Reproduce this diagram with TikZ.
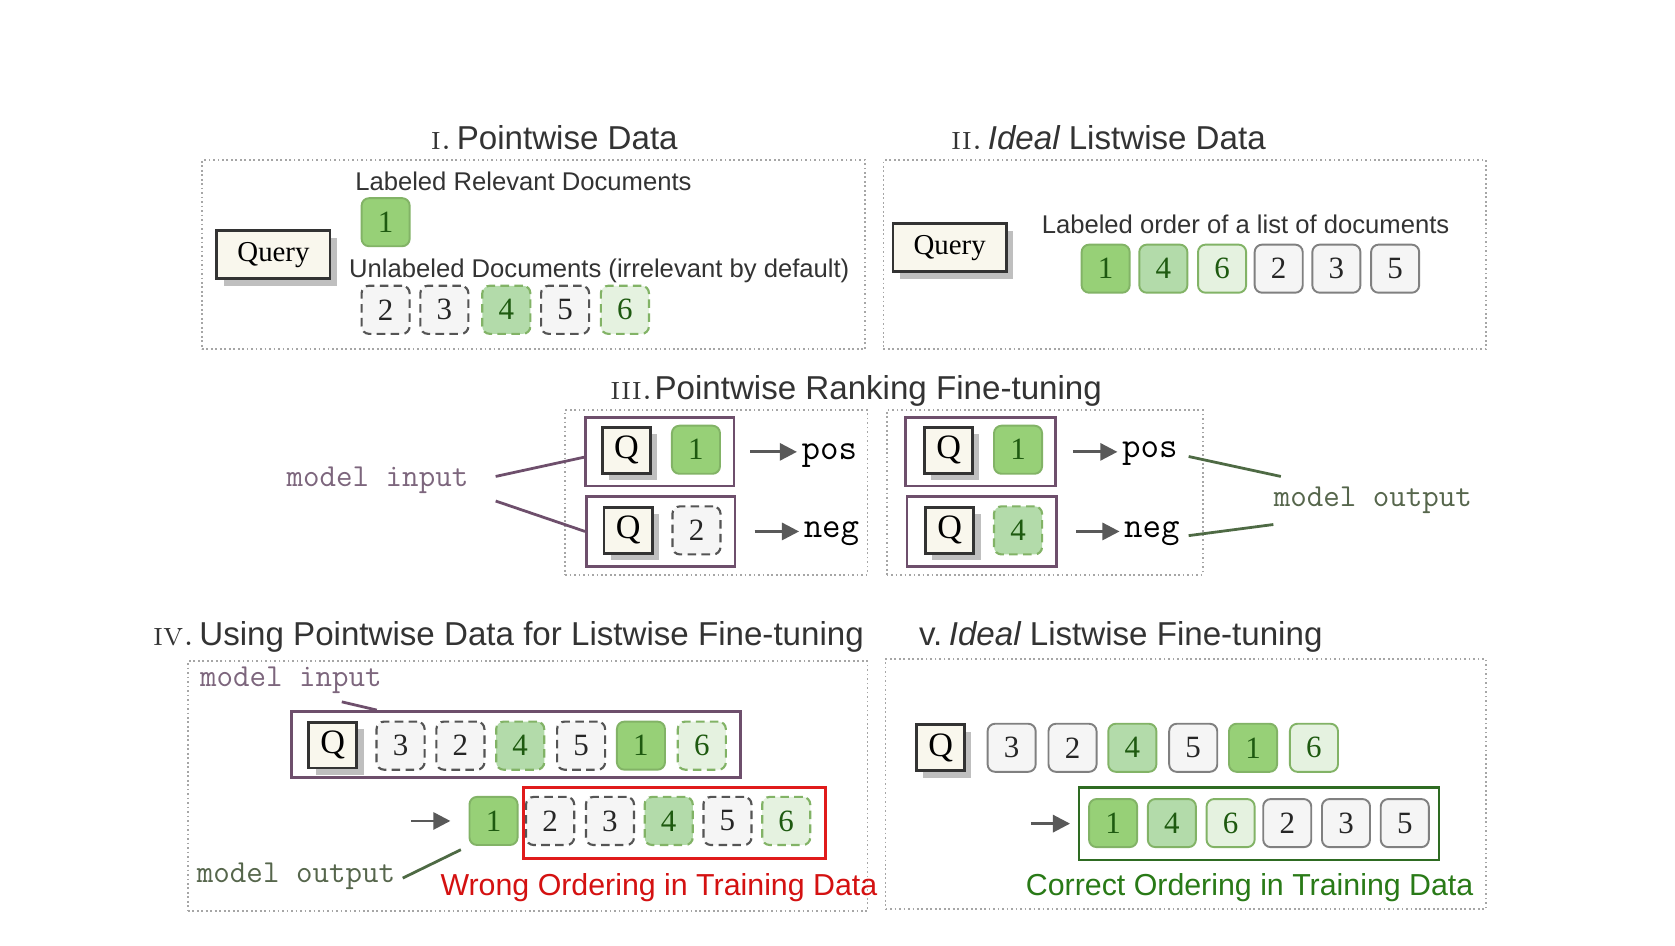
\documentclass[tikz,border=0pt]{standalone}
\usepackage{fontspec}
\newfontfamily\sansf{Liberation Sans}
\newfontfamily\seriff{Liberation Serif}
\newcommand\monof{\ttfamily}
\usetikzlibrary{shadows,arrows.meta}
\definecolor{gA}{HTML}{97D077}
\definecolor{gB}{HTML}{82B366}
\definecolor{gM}{HTML}{B3DBAA}
\definecolor{gL}{HTML}{E5F2E0}
\definecolor{gT}{HTML}{1E5A10}
\definecolor{grF}{HTML}{F5F5F5}
\definecolor{grS}{HTML}{808080}
\definecolor{grD}{HTML}{555555}
\definecolor{cream}{HTML}{F9F7ED}
\definecolor{qD}{HTML}{333333}
\definecolor{shG}{HTML}{BFBFBF}
\definecolor{pC}{HTML}{6E4F6C}
\definecolor{miC}{HTML}{7D667D}
\definecolor{moC}{HTML}{56664C}
\definecolor{glC}{HTML}{4E6A44}
\definecolor{rC}{HTML}{E01B1B}
\definecolor{rT}{HTML}{D41111}
\definecolor{cC}{HTML}{2E6B22}
\definecolor{cT}{HTML}{297A17}
\definecolor{tC}{HTML}{333333}
\definecolor{arC}{HTML}{595959}
\definecolor{pnC}{HTML}{A6A6A6}
\newcommand\rnum[1]{{\rmfamily\scshape #1}\hspace{2.5pt}}
\tikzset{
  doc/.style={rounded corners=3.5pt, minimum width=22.5pt, minimum height=22.5pt, inner sep=0pt, line width=0.9pt, font=\seriff\fontsize{14.5}{16}\selectfont},
  dsh/.style={dash pattern=on 4pt off 2.5pt, line width=1pt},
  dkg/.style={doc, fill=gA, draw=gB, text=gT},
  mdg/.style={doc, fill=gM, draw=gB, text=gT},
  ltg/.style={doc, fill=gL, draw=gB, text=gT},
  gry/.style={doc, fill=grF, draw=grS, text=black!85},
  dgry/.style={gry, draw=grD, dsh},
  dmdg/.style={mdg, dsh},
  dltg/.style={ltg, dsh},
  qry/.style={draw=qD, line width=1.3pt, fill=cream, minimum width=53pt, minimum height=22.5pt, inner sep=0pt, font=\seriff\fontsize{13.5}{15}\selectfont, drop shadow={shadow xshift=3.2pt, shadow yshift=-3.2pt, fill=shG, opacity=1}},
  qsm/.style={qry, minimum width=22.5pt, minimum height=21.5pt, font=\seriff\fontsize{16}{18}\selectfont},
  pnl/.style={draw=pnC, line width=0.8pt, dash pattern=on 0.8pt off 1.3pt, inner sep=0pt},
  prp/.style={draw=pC, line width=1.3pt, inner sep=0pt},
  ttl/.style={anchor=base west, inner sep=0pt, text=tC, font=\sansf\fontsize{15.5}{18}\selectfont},
  lbl/.style={anchor=base, inner sep=0pt, text=tC, font=\sansf\fontsize{12}{14}\selectfont},
  minp/.style={anchor=base west, inner sep=0pt, text=miC, font=\monof\fontsize{15}{17}\selectfont},
  mout/.style={anchor=base west, inner sep=0pt, text=moC, font=\monof\fontsize{15}{17}\selectfont},
  pn/.style={anchor=base west, inner sep=0pt, text=black, font=\monof\fontsize{16.8}{19}\selectfont},
  arr/.style={draw=arC, line width=1.3pt, -{Triangle[length=8pt,width=8pt]}},
  pline/.style={draw=pC, line width=1.3pt},
  gline/.style={draw=glC, line width=1.3pt},
  bigtxt/.style={anchor=base west, inner sep=0pt, font=\sansf\fontsize{14.2}{16}\selectfont},
}
\begin{document}
\begin{tikzpicture}[x=0.5pt,y=-0.5pt]
\fill[white] (0,0) rectangle (1568,885);
\useasboundingbox (0,0) rectangle (1568,885);

% ---------- Panel I ----------
\node[pnl, minimum width=310.5pt, minimum height=88.5pt] (P1) at (499.5,238.5) {};
\node[ttl] (T1) at (403,140) {\rnum{i.}Pointwise Data};
\node[qry] (Q1) at (256,238.5) {Query};
\node[lbl] (L1a) at (490,178.5) {Labeled Relevant Documents};
\node[dkg] (d11) at (361,208) {1};
\node[lbl] (L1b) at (561,259.5) {Unlabeled Documents (irrelevant by default)};
\node[dgry] (d12) at (361,290) {2};
\node[dgry] (d13) at (416,290) {3};
\node[dmdg] (d14) at (474,290) {4};
\node[dgry] (d15) at (529,290) {5};
\node[dltg] (d16) at (585,290) {6};

% ---------- Panel II ----------
\node[pnl, minimum width=282pt, minimum height=88.5pt] (P2) at (1109,238.5) {};
\node[ttl] (T2) at (890,140) {\rnum{ii.}{\itshape Ideal} Listwise Data};
\node[qry] (Q2) at (889,232) {Query};
\node[lbl] (L2) at (1166,218.5) {Labeled order of a list of documents};
\node[dkg] (d21) at (1035,251.5) {1};
\node[mdg] (d22) at (1089,251.5) {4};
\node[ltg] (d23) at (1144,251.5) {6};
\node[gry] (d24) at (1197,251.5) {2};
\node[gry] (d25) at (1251,251.5) {3};
\node[gry] (d26) at (1306,251.5) {5};

% ---------- Panel III ----------
\node[ttl] (T3) at (571,374) {{\rmfamily\scshape iii.}\hspace{1pt}Pointwise Ranking Fine-tuning};
\node[pnl, minimum width=141.5pt, minimum height=77pt] (P3a) at (670.5,461) {};
\node[pnl, minimum width=148pt, minimum height=77pt] (P3b) at (978,461) {};
\node[prp, minimum width=69.5pt, minimum height=32pt] (B3a) at (617.5,423) {};
\node[prp, minimum width=69.5pt, minimum height=32.5pt] (B3b) at (618.5,497.5) {};
\node[prp, minimum width=70pt, minimum height=32pt] (B3c) at (918,423) {};
\node[prp, minimum width=70pt, minimum height=32.5pt] (B3d) at (919,497.5) {};
\node[qsm] (Q3a) at (586.5,421.5) {Q};
\node[dkg] (d3a) at (651.5,421) {1};
\node[qsm] (Q3b) at (588,496.5) {Q};
\node[dgry] (d3b) at (652,496.5) {2};
\node[qsm] (Q3c) at (888,421.5) {Q};
\node[dkg] (d3c) at (953,421) {1};
\node[qsm] (Q3d) at (889,496.5) {Q};
\node[dmdg] (d3d) at (953,496.5) {4};
\node[pn] (o3a) at (750,430) {pos};
\node[pn] (o3b) at (752,503) {neg};
\node[pn] (o3c) at (1050,428) {pos};
\node[pn] (o3d) at (1052,503) {neg};
\draw[arr, shorten <=7pt, shorten >=2pt] (B3a.east) -- (B3a.east -| o3a.west);
\draw[arr, shorten <=8.5pt, shorten >=2pt] (B3b.east) -- (B3b.east -| o3b.west);
\draw[arr, shorten <=7.5pt, shorten >=2pt] (B3c.east) -- (B3c.east -| o3c.west);
\draw[arr, shorten <=8.5pt, shorten >=2pt] (B3d.east) -- (B3d.east -| o3d.west);
\node[minp] (mi3) at (268,455) {model input};
\coordinate (mi3a) at (464,446);
\coordinate (mi3b) at (464,469);
\draw[pline] (mi3a) -- ([yshift=-2.5pt]B3a.west);
\draw[pline] (mi3b) -- (B3b.west);
\node[mout] (mo3) at (1192,474) {model output};
\coordinate (mo3a) at (1199,446);
\coordinate (mo3b) at (1192,491);
\draw[gline] ([xshift=5pt,yshift=-1.5pt]o3c.east) -- (mo3a);
\draw[gline] ([xshift=4pt,yshift=-1pt]o3d.east) -- (mo3b);

% ---------- Panel IV ----------
\node[ttl] (T4) at (143,604) {\rnum{iv.}Using Pointwise Data for Listwise Fine-tuning};
\node[pnl, minimum width=318pt, minimum height=117pt] (P4) at (494,736) {};
\node[minp] (mi4) at (187,643) {model input};
\node[prp, minimum width=210pt, minimum height=31pt] (B4) at (483,697) {};
\coordinate (mi4a) at (320,657);
\draw[pline] (mi4a) -- ([xshift=40.5pt]B4.north west);
\node[qsm] (Q4) at (311.5,697.5) {Q};
\node[dgry] (d41) at (375,698) {3};
\node[dgry] (d42) at (431,698) {2};
\node[dmdg] (d43) at (487,698) {4};
\node[dgry] (d44) at (544,698) {5};
\node[dkg] (d45) at (600,698) {1};
\node[dltg] (d46) at (657,698) {6};
\node[dkg] (e41) at (462,768.5) {1};
\coordinate (a4) at (385,768.5);
\draw[arr, shorten >=8.5pt] (a4) -- (e41.west);
\node[draw=rC, line width=1.3pt, inner sep=0pt, minimum width=141.5pt, minimum height=33.5pt] (R4) at (631.5,770.5) {};
\node[dgry] (e42) at (515,768.5) {2};
\node[dgry] (e43) at (571,768.5) {3};
\node[dmdg] (e44) at (626,768.5) {4};
\node[dgry] (e45) at (681,768.5) {5};
\node[dltg] (e46) at (736,768.5) {6};
\node[mout] (mo4) at (184,826) {model output};
\coordinate (mo4a) at (377,822);
\draw[gline, shorten >=4pt] (mo4a) -- (e41.south west);
\node[bigtxt, text=rT] (W4) at (412,838) {Wrong Ordering in Training Data};

% ---------- Panel V ----------
\node[ttl] (T5) at (860,604) {v.\hspace{3pt}{\itshape Ideal} Listwise Fine-tuning};
\node[pnl, minimum width=281pt, minimum height=117pt] (P5) at (1110,734) {};
\node[qsm] (Q5) at (880.5,700) {Q};
\node[gry] (f51) at (947,700) {3};
\node[gry] (f52) at (1004,700) {2};
\node[mdg] (f53) at (1060,700) {4};
\node[gry] (f54) at (1117,700) {5};
\node[dkg] (f55) at (1173,700) {1};
\node[ltg] (f56) at (1230,700) {6};
\node[draw=cC, line width=1.3pt, inner sep=0pt, minimum width=168.5pt, minimum height=34pt] (G5) at (1178.5,771) {};
\coordinate (a5) at (965,771);
\draw[arr, shorten >=3.5pt] (a5) -- (G5.west);
\node[dkg] (h51) at (1042,770.5) {1};
\node[mdg] (h52) at (1097,770.5) {4};
\node[ltg] (h53) at (1152,770.5) {6};
\node[gry] (h54) at (1205,770.5) {2};
\node[gry] (h55) at (1260,770.5) {3};
\node[gry] (h56) at (1315,770.5) {5};
\node[bigtxt, text=cT] (C5) at (960,838) {Correct Ordering in Training Data};
\end{tikzpicture}
\end{document}
